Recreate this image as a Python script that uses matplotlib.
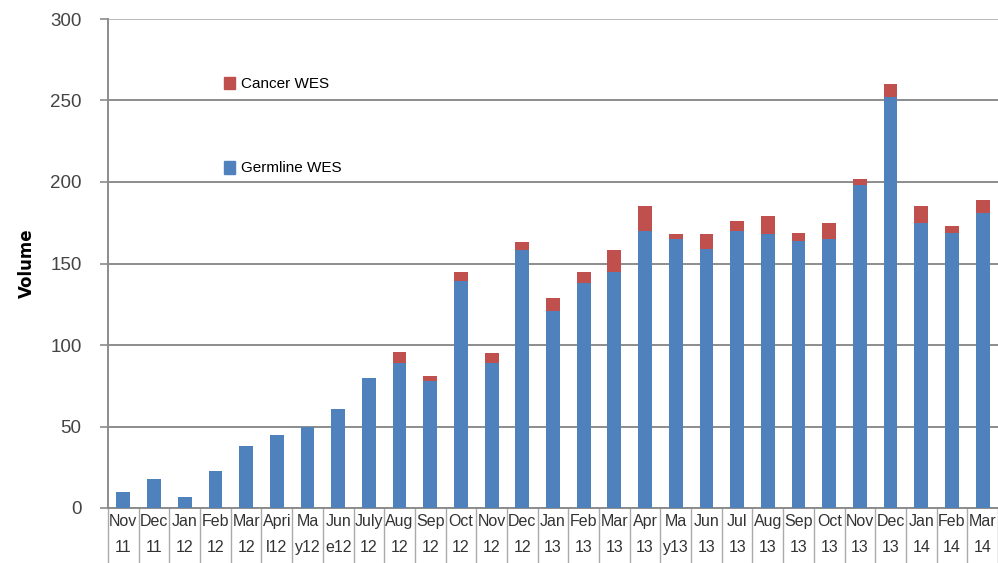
import matplotlib.pyplot as plt
import matplotlib.patches as mpatches
import numpy as np

meses = ["Nov\n11", "Dec\n11", "Jan\n12", "Feb\n12", "Mar\n12", "Apri\nl12", "Ma\ny12",
         "Jun\ne12", "July\n12", "Aug\n12", "Sep\n12", "Oct\n12", "Nov\n12", "Dec\n12",
         "Jan\n13", "Feb\n13", "Mar\n13", "Apr\n13", "Ma\ny13", "Jun\n13", "Jul\n13",
         "Aug\n13", "Sep\n13", "Oct\n13", "Nov\n13", "Dec\n13", "Jan\n14", "Feb\n14",
         "Mar\n14"]
germline_wes = [10, 18, 7, 23, 38, 45, 50, 61, 80, 89, 78, 139, 89, 158,
                121, 138, 145, 170, 165, 159, 170, 168, 164, 165, 198, 252, 175, 169, 181]
cancer_wes = [0, 0, 0, 0, 0, 0, 0, 0, 0, 7, 3, 6, 6, 5,
              8, 7, 13, 15, 3, 9, 6, 11, 5, 10, 4, 8, 10, 4, 8]

AZUL = "#4F81BD"
VERMELHO = "#C0504D"
CINZA = "#8C8C8C"
FONTE = ["Liberation Sans", "DejaVu Sans"]

fig = plt.figure(figsize=(9.98, 5.63), dpi=100)
ax = fig.add_axes([108 / 998, 55 / 563, 890 / 998, 489 / 563])

x = np.arange(len(meses))
ax.bar(x, germline_wes, width=0.45, color=AZUL, zorder=3)
ax.bar(x, cancer_wes, width=0.45, bottom=germline_wes, color=VERMELHO, zorder=3)

ax.set_xlim(-0.5, len(meses) - 0.5)
ax.set_ylim(0, 300)
ax.set_yticks(range(0, 301, 50))
ax.yaxis.grid(True, color=CINZA, linewidth=1.4, zorder=0)
ax.get_ygridlines()[-1].set_color("#BBBBBB")

ax.set_xticks(x)
ax.set_xticklabels(meses, family=FONTE, fontsize=11.5, color="#333333", linespacing=1.95)
ax.set_xticks(np.arange(-0.5, len(meses)), minor=True)
ax.tick_params(axis="x", which="major", length=0, pad=4)
ax.tick_params(axis="x", which="minor", length=40, color="#AAAAAA", width=1)
ax.tick_params(axis="y", length=6, color=CINZA, width=1.2, pad=13)
for rotulo in ax.get_yticklabels():
    rotulo.set_family(FONTE)
    rotulo.set_fontsize(13.5)
    rotulo.set_color("#444444")

for lado in ["top", "right"]:
    ax.spines[lado].set_visible(False)
ax.spines["left"].set_color(CINZA)
ax.spines["left"].set_linewidth(1.4)
ax.spines["bottom"].set_color(CINZA)
ax.spines["bottom"].set_linewidth(1.4)

ax.set_ylabel("Volume", fontsize=12, fontweight="bold", labelpad=10)

handles = [mpatches.Patch(color=VERMELHO, label="Cancer WES"),
           mpatches.Patch(color=AZUL, label="Germline WES")]
ax.legend(handles=handles, loc="upper left", bbox_to_anchor=(0.115, 0.91),
          frameon=False, labelspacing=4.55, handlelength=0.7, handleheight=0.9,
          handletextpad=0.4, prop={"family": FONTE, "size": 11})

fig.savefig("out.png", dpi=100)
